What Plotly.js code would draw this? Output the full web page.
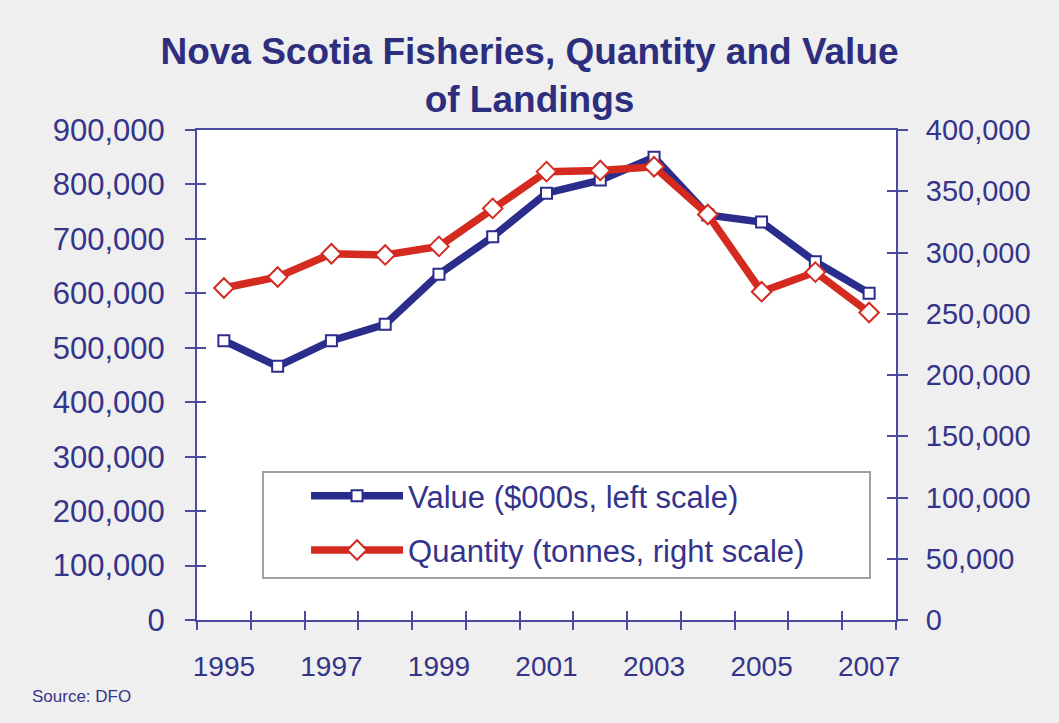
<!DOCTYPE html>
<html>
<head>
<meta charset="utf-8">
<script src="https://cdn.plot.ly/plotly-3.0.1.min.js"></script>
<style>html,body{margin:0;padding:0;background:#efefef;}#chart{width:1059px;height:723px;}</style>
</head>
<body>
<div id="chart"></div>
<script>
// Data
const years = [1995, 1996, 1997, 1998, 1999, 2000, 2001, 2002, 2003, 2004, 2005, 2006, 2007];
const valueK = [513000, 466000, 513000, 543000, 635000, 704000, 784000, 808000, 850000, 744000, 731000, 658000, 600000];
const quantityT = [271000, 280000, 299000, 298000, 305000, 336000, 366000, 367000, 370000, 331000, 268000, 284000, 251000];
const labelYears = [1995, 1997, 1999, 2001, 2003, 2005, 2007];
const seriesNames = ['Value ($000s, left scale)', 'Quantity (tonnes, right scale)'];

const navy = '#34348a';
const axisCol = '#4a4a9e';
const blue = '#2b2d8c';
const red = '#d42a1f';
const fontFam = 'Liberation Sans, Arial, sans-serif';

const boundaries = years.map(y => y - 0.5).concat([years[years.length - 1] + 0.5]);
const xr = [years[0] - 0.5, years[years.length - 1] + 0.5];

const traces = [
  {x: years, y: valueK, name: seriesNames[0], type: 'scatter', mode: 'lines+markers',
   xaxis: 'x', yaxis: 'y', legendgroup: 'a',
   line: {color: blue, width: 7.5},
   marker: {symbol: 'square', size: 11, color: '#ffffff', line: {color: blue, width: 2}}},
  {x: years, y: quantityT, name: seriesNames[1], type: 'scatter', mode: 'lines+markers',
   xaxis: 'x', yaxis: 'y2', legendgroup: 'b',
   line: {color: red, width: 7.5},
   marker: {symbol: 'diamond', size: 15, color: '#ffffff', line: {color: red, width: 2}}},
  // invisible helpers so the tick overlay axes are drawn
  {x: years, y: valueK, xaxis: 'x2', yaxis: 'y3', mode: 'lines', line: {width: 0}, showlegend: false, hoverinfo: 'skip'},
  {x: years, y: quantityT, xaxis: 'x3', yaxis: 'y4', mode: 'lines', line: {width: 0}, showlegend: false, hoverinfo: 'skip'}
];

const layout = {
  width: 1059, height: 723,
  paper_bgcolor: '#efefef', plot_bgcolor: '#ffffff',
  margin: {l: 197, r: 163, t: 130, b: 103},
  showlegend: true,
  title: {text: 'Nova Scotia Fisheries, Quantity and Value<br>of Landings',
          x: 0.5, xanchor: 'center', y: 0.911, yanchor: 'middle',
          font: {family: fontFam, size: 37, color: '#2e2e7e', weight: 'bold'}},
  xaxis: {range: xr, tickmode: 'array', tickvals: labelYears, ticktext: labelYears.map(String),
          ticks: '', showline: true, linecolor: axisCol, linewidth: 2, mirror: true,
          showgrid: false, zeroline: false, tickfont: {family: fontFam, size: 28, color: navy},
          ticklabelstandoff: 20},
  xaxis2: {overlaying: 'x', range: xr, tickmode: 'array', tickvals: boundaries, showticklabels: false,
           ticks: 'outside', ticklen: 9, tickwidth: 2, tickcolor: axisCol, showgrid: false, zeroline: false, showline: false},
  xaxis3: {overlaying: 'x', range: xr, tickmode: 'array', tickvals: boundaries, showticklabels: false,
           ticks: 'inside', ticklen: 9, tickwidth: 2, tickcolor: axisCol, showgrid: false, zeroline: false, showline: false},
  yaxis: {range: [0, 900000], dtick: 100000, tickformat: ',d', ticks: 'outside', ticklen: 10, tickwidth: 2,
          tickcolor: axisCol, showline: true, linecolor: axisCol, linewidth: 2, showgrid: false, zeroline: false,
          tickfont: {family: fontFam, size: 31, color: navy}, ticklabelstandoff: 14},
  yaxis2: {overlaying: 'y', side: 'right', range: [0, 400000], dtick: 50000, tickformat: ',d', ticks: 'outside',
           ticklen: 10, tickwidth: 2, tickcolor: axisCol, showline: true, linecolor: axisCol, linewidth: 2,
           showgrid: false, zeroline: false, tickfont: {family: fontFam, size: 29, color: navy}, ticklabelstandoff: 12},
  yaxis3: {overlaying: 'y', anchor: 'x2', range: [0, 900000], dtick: 100000, showticklabels: false, ticks: 'inside',
           ticklen: 9, tickwidth: 2, tickcolor: axisCol, showgrid: false, zeroline: false, showline: false},
  yaxis4: {overlaying: 'y', anchor: 'x3', side: 'right', range: [0, 400000], dtick: 50000, showticklabels: false,
           ticks: 'inside', ticklen: 9, tickwidth: 2, tickcolor: axisCol, showgrid: false, zeroline: false, showline: false},
  legend: {x: 0.156, y: 0.308, xanchor: 'left', yanchor: 'top', bgcolor: 'rgba(0,0,0,0)',
           borderwidth: 0, itemwidth: 92, tracegroupgap: 11,
           font: {family: fontFam, size: 31, color: navy}},
  shapes: [{type: 'rect', xref: 'paper', yref: 'paper', x0: 0.0944, x1: 0.9628, y0: 0.0857, y1: 0.302,
            fillcolor: '#ffffff', line: {color: '#a0a0a0', width: 2}, layer: 'above'}],
  annotations: [{text: 'Source: DFO', xref: 'paper', yref: 'paper', x: -0.239, y: -0.157,
                 xanchor: 'left', yanchor: 'middle', showarrow: false,
                 font: {family: fontFam, size: 17, color: navy}}]
};

Plotly.newPlot('chart', traces, layout, {displayModeBar: false, staticPlot: true});
</script>
</body>
</html>
